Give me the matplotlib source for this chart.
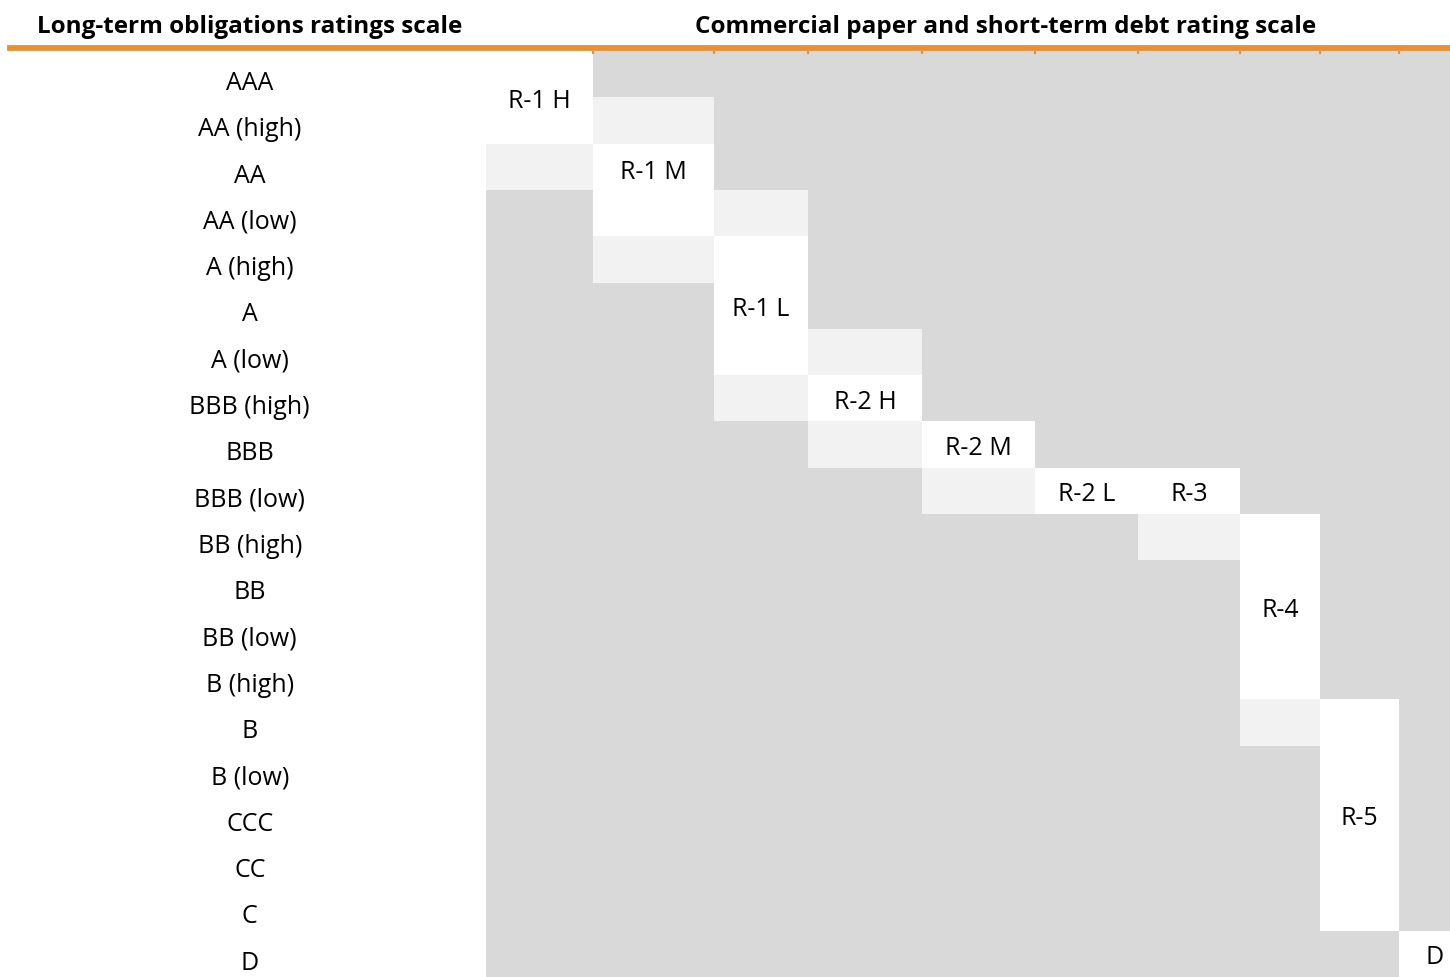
import numpy as np
import matplotlib.pyplot as plt

# long-term scale (rows, top to bottom)
long_term = ["AAA", "AA (high)", "AA", "AA (low)", "A (high)", "A", "A (low)",
             "BBB (high)", "BBB", "BBB (low)", "BB (high)", "BB", "BB (low)",
             "B (high)", "B", "B (low)", "CCC", "CC", "C", "D"]

# short-term scale (columns) and the long-term range each one maps to
short_term = ["R-1 H", "R-1 M", "R-1 L", "R-2 H", "R-2 M", "R-2 L", "R-3", "R-4", "R-5", "D"]
range_from = ["AAA", "AA", "A (high)", "BBB (high)", "BBB", "BBB (low)", "BBB (low)",
              "BB (high)", "B", "D"]
range_to = ["AA (high)", "AA (low)", "A (low)", "BBB (high)", "BBB", "BBB (low)", "BBB (low)",
            "B (high)", "C", "D"]

# lightly shaded neighbouring cells (column, rating)
light_cells = [("R-1 H", "AA"), ("R-1 M", "AA (high)"), ("R-1 M", "A (high)"),
               ("R-1 L", "AA (low)"), ("R-1 L", "BBB (high)"), ("R-2 H", "A (low)"),
               ("R-2 H", "BBB"), ("R-2 M", "BBB (low)"), ("R-3", "BB (high)"), ("R-4", "B")]

DARK = "#D9D9D9"
LIGHT = "#F2F2F2"
ORANGE = "#EA8F32"
FONT = ["Open Sans", "DejaVu Sans"]
FS = 18

W, H = 1450, 978
fig = plt.figure(figsize=(W / 100, H / 100), dpi=100)

# layout (pixels)
grid_left, grid_top = 486, 52
col_w = np.array([107, 121, 94, 114, 113, 103, 102, 80, 79, 51], dtype=float)
edges = np.concatenate([[0], np.cumsum(col_w)])
n_rows = len(long_term)
row_idx = {r: i for i, r in enumerate(long_term)}
col_idx = {c: i for i, c in enumerate(short_term)}

ax = fig.add_axes([grid_left / W, 0, 1 - grid_left / W, 1 - grid_top / H])
ax.set_xlim(0, edges[-1])
ax.set_ylim(n_rows, 0)
ax.set_facecolor(DARK)
for s in ax.spines.values():
    s.set_visible(False)

# white blocks
for j, name in enumerate(short_term):
    r0, r1 = row_idx[range_from[j]], row_idx[range_to[j]]
    ax.bar(edges[j], r1 - r0 + 1, width=col_w[j], bottom=r0, align="edge",
           color="white", linewidth=0)

# light cells
for c, r in light_cells:
    j = col_idx[c]
    ax.bar(edges[j], 1, width=col_w[j], bottom=row_idx[r], align="edge",
           color=LIGHT, linewidth=0)

# labels inside blocks
y_shift = {"R-1 M": -0.45}
x_shift = {"D": 0.2}
for j, name in enumerate(short_term):
    r0, r1 = row_idx[range_from[j]], row_idx[range_to[j]]
    yc = (r0 + r1 + 1) / 2 + 0.2 + y_shift.get(name, 0)
    xc = edges[j] + col_w[j] * (0.5 + x_shift.get(name, 0))
    ax.text(xc, yc, name, ha="center", va="baseline", fontsize=FS, family=FONT,
            color="black")

ax.set_xticks(edges[1:-1])
ax.set_yticks([])
ax.xaxis.tick_top()
ax.tick_params(axis="x", direction="in", length=2, width=1.5, color=ORANGE,
               labeltop=False, labelbottom=False)

# left column of long-term ratings
axl = fig.add_axes([0, 0, grid_left / W, 1 - grid_top / H])
axl.set_xlim(0, 1)
axl.set_ylim(n_rows, 0)
axl.axis("off")
for i, r in enumerate(long_term):
    axl.text(0.514, i + 0.82, r, ha="center", va="baseline", fontsize=FS,
             family=FONT, color="black")

# headers and orange rule
fig.text(250 / W, 1 - 33 / H, "Long-term obligations ratings scale", ha="center",
         va="baseline", fontsize=17.5, fontweight="bold", family=FONT)
fig.text(1006 / W, 1 - 33 / H, "Commercial paper and short-term debt rating scale",
         ha="center", va="baseline", fontsize=17.5, fontweight="bold", family=FONT)
fig.add_artist(plt.Line2D([10 / W, 1], [1 - 49 / H, 1 - 49 / H], color=ORANGE,
                          linewidth=4.2, transform=fig.transFigure))

fig.savefig("out.png", dpi=100)
